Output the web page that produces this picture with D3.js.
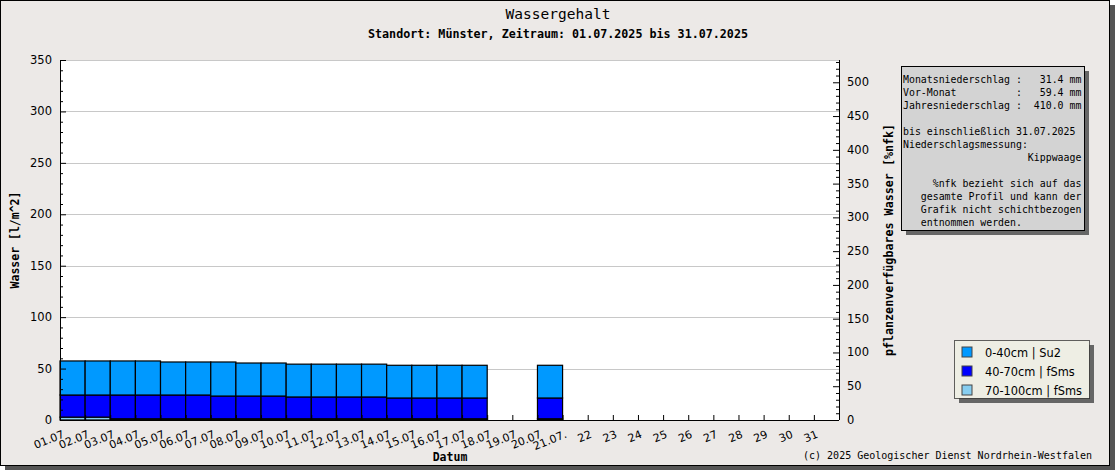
<!DOCTYPE html>
<html>
<head>
<meta charset="utf-8">
<script src="https://cdn.jsdelivr.net/npm/d3@7"></script>
<style>
  body { margin: 0; background: #fff; }
  svg text { font-family: "DejaVu Sans Mono", monospace; }
</style>
</head>
<body>
<div id="wrapper"></div>
<script>
// day of month each bar starts at
const days = [1, 2, 3, 4, 5, 6, 7, 8, 9, 10, 11, 12, 13, 14, 15, 16, 17, 20];
// layer values in l/m^2, stacked bottom -> top
const layer70_100 = [2.8, 2.8, 1.2, 1.2, 1.2, 1.2, 1.2, 1.2, 1.2, 1.2, 1.2, 1.2, 1.2, 1.2, 1.2, 1.2, 1.2, 1.2];
const layer40_70  = [21.5, 21.5, 23.1, 23.1, 23.1, 23.1, 22.1, 22.1, 22.1, 21.2, 21.2, 21.2, 21.2, 20.2, 20.2, 20.2, 20.2, 20.2];
const layer0_40   = [33.1, 33.1, 33.1, 33.1, 32.1, 32.1, 33.1, 32.1, 32.1, 31.9, 31.9, 31.9, 31.9, 31.8, 31.8, 31.8, 31.8, 31.8];

const layerNames = ["70-100cm | fSms", "40-70cm | fSms", "0-40cm | Su2"];
const layerColors = ["#87cef0", "#0000ff", "#0099ff"];
const legendOrder = [2, 1, 0];

const xTickDays = d3.range(1, 32);
const xTickLabels = xTickDays.map(d => d <= 20 ? d3.format("02")(d) + ".07" : d === 21 ? "21.07." : String(d));

const infoLines = [
  "Monatsniederschlag :   31.4 mm",
  "Vor-Monat          :   59.4 mm",
  "Jahresniederschlag :  410.0 mm",
  "",
  "bis einschließlich 31.07.2025",
  "Niederschlagsmessung:",
  "                     Kippwaage",
  "",
  "     %nfk bezieht sich auf das",
  "   gesamte Profil und kann der",
  "   Grafik nicht schichtbezogen",
  "   entnommen werden."
];

const W = 1115, H = 470;
const plot = {left: 60, right: 839, top: 60, bottom: 420};

const svg = d3.select("#wrapper").append("svg")
  .attr("width", W)
  .attr("height", H);

// frame with shadow
svg.append("rect").attr("x", 5).attr("y", 5).attr("width", W - 5).attr("height", H - 5).attr("fill", "#555");
svg.append("rect").attr("x", 0.5).attr("y", 0.5).attr("width", 1109).attr("height", 465)
  .attr("fill", "#ece9e7").attr("stroke", "#000");

const x = d3.scaleLinear().domain([1, 32]).range([plot.left, plot.right]);
const y = d3.scaleLinear().domain([0, 350]).range([plot.bottom, plot.top]);
const yR = d3.scaleLinear().domain([0, 533]).range([plot.bottom, plot.top]);

svg.append("rect")
  .attr("x", plot.left).attr("y", plot.top)
  .attr("width", plot.right - plot.left).attr("height", plot.bottom - plot.top)
  .attr("fill", "#fff");

// grid
svg.append("g")
  .selectAll("line")
  .data(d3.range(50, 351, 50))
  .join("line")
  .attr("x1", plot.left).attr("x2", plot.right)
  .attr("y1", d => Math.round(y(d)) + 0.5).attr("y2", d => Math.round(y(d)) + 0.5)
  .attr("stroke", "#c8c8c8");

// stacked bars
const table = days.map((d, i) => ({day: d, a: layer70_100[i], b: layer40_70[i], c: layer0_40[i]}));
const stack = d3.stack().keys(["a", "b", "c"])(table);

svg.append("g")
  .selectAll("g")
  .data(stack)
  .join("g")
  .attr("fill", (d, i) => layerColors[i])
  .selectAll("rect")
  .data(d => d)
  .join("rect")
  .attr("x", d => x(d.data.day))
  .attr("width", d => x(d.data.day + 1) - x(d.data.day))
  .attr("y", d => y(d[1]))
  .attr("height", d => y(d[0]) - y(d[1]))
  .attr("stroke", "#000")
  .attr("stroke-width", 1.2);

// axes
const axisFont = "DejaVu Sans, sans-serif";

const yAxis = svg.append("g")
  .attr("transform", `translate(${plot.left},0)`)
  .call(d3.axisRight(y).tickValues(d3.range(0, 351, 10)).tickSize(3).tickFormat(""));
yAxis.selectAll(".tick line").filter(d => d % 50 === 0).attr("x2", 6);
yAxis.select(".domain").attr("d", `M0.5,${plot.top}V${plot.bottom}`);
svg.append("g")
  .selectAll("text")
  .data(d3.range(0, 351, 50))
  .join("text")
  .attr("x", 52).attr("y", d => y(d) + 4)
  .attr("text-anchor", "end")
  .style("font-family", axisFont).style("font-size", "11.5px")
  .text(d => d);

const yAxisR = svg.append("g")
  .attr("transform", `translate(${plot.right},0)`)
  .call(d3.axisLeft(yR).tickValues(d3.range(0, 531, 10)).tickSize(3).tickFormat(""));
yAxisR.selectAll(".tick line").filter(d => d % 50 === 0).attr("x2", -6);
yAxisR.select(".domain").attr("d", `M0.5,${plot.top}V${plot.bottom}`);
svg.append("g")
  .selectAll("text")
  .data(d3.range(0, 501, 50))
  .join("text")
  .attr("x", 847).attr("y", d => yR(d) + 4)
  .style("font-family", axisFont).style("font-size", "11.5px")
  .text(d => d);

const xAxis = svg.append("g")
  .attr("transform", `translate(0,${plot.bottom})`)
  .call(d3.axisTop(x).tickValues(xTickDays).tickSize(5).tickFormat(""));
xAxis.select(".domain").attr("d", `M${plot.left},0.5H${plot.right}`);
svg.append("g")
  .selectAll("text")
  .data(xTickDays)
  .join("text")
  .attr("text-anchor", "end")
  .attr("transform", d => `translate(${x(d) + 2},${plot.bottom + 10}) rotate(-22)`)
  .attr("dy", "0.7em")
  .style("font-family", axisFont).style("font-size", "11px")
  .text((d, i) => xTickLabels[i]);

// titles
svg.append("text").attr("x", 558).attr("y", 19).attr("text-anchor", "middle")
  .style("font-size", "14.5px").text("Wassergehalt");
svg.append("text").attr("x", 558).attr("y", 38).attr("text-anchor", "middle")
  .style("font-size", "11.7px").style("font-weight", "bold")
  .text("Standort: Münster, Zeitraum: 01.07.2025 bis 31.07.2025");
svg.append("text").attr("x", 450).attr("y", 461).attr("text-anchor", "middle")
  .style("font-size", "11.5px").style("font-weight", "bold").text("Datum");
svg.append("text").attr("transform", "translate(19,240) rotate(-90)").attr("text-anchor", "middle")
  .style("font-size", "11.5px").style("font-weight", "bold").text("Wasser [l/m^2]");
svg.append("text").attr("transform", "translate(893,240) rotate(-90)").attr("text-anchor", "middle")
  .style("font-size", "11.7px").style("font-weight", "bold").text("pflanzenverfügbares Wasser [%nfk]");
svg.append("text").attr("x", 1092).attr("y", 459).attr("text-anchor", "end")
  .style("font-size", "10px").text("(c) 2025 Geologischer Dienst Nordrhein-Westfalen");

// info box
svg.append("rect").attr("x", 906).attr("y", 71).attr("width", 183).attr("height", 164).attr("fill", "#666");
svg.append("rect").attr("x", 901.5).attr("y", 66.5).attr("width", 183).attr("height", 164)
  .attr("fill", "#d3d3d3").attr("stroke", "#000");
svg.append("g")
  .selectAll("text")
  .data(infoLines)
  .join("text")
  .attr("x", 903).attr("y", (d, i) => 83 + i * 13)
  .attr("xml:space", "preserve")
  .style("white-space", "pre")
  .style("font-size", "9.9px")
  .text(d => d);

// legend
svg.append("rect").attr("x", 959).attr("y", 345).attr("width", 135).attr("height", 58).attr("fill", "#666");
svg.append("rect").attr("x", 954.5).attr("y", 340.5).attr("width", 135).attr("height", 58)
  .attr("fill", "#eeeee4").attr("stroke", "#000").attr("stroke-opacity", 0.6);
const leg = svg.append("g")
  .selectAll("g")
  .data(legendOrder)
  .join("g")
  .attr("transform", (d, i) => `translate(962,${347 + i * 19})`);
leg.append("rect").attr("width", 10).attr("height", 10)
  .attr("fill", d => layerColors[d]).attr("stroke", "#444");
leg.append("text").attr("x", 23).attr("y", 9.5)
  .style("font-family", axisFont).style("font-size", "11.4px")
  .text(d => layerNames[d]);
</script>
</body>
</html>
